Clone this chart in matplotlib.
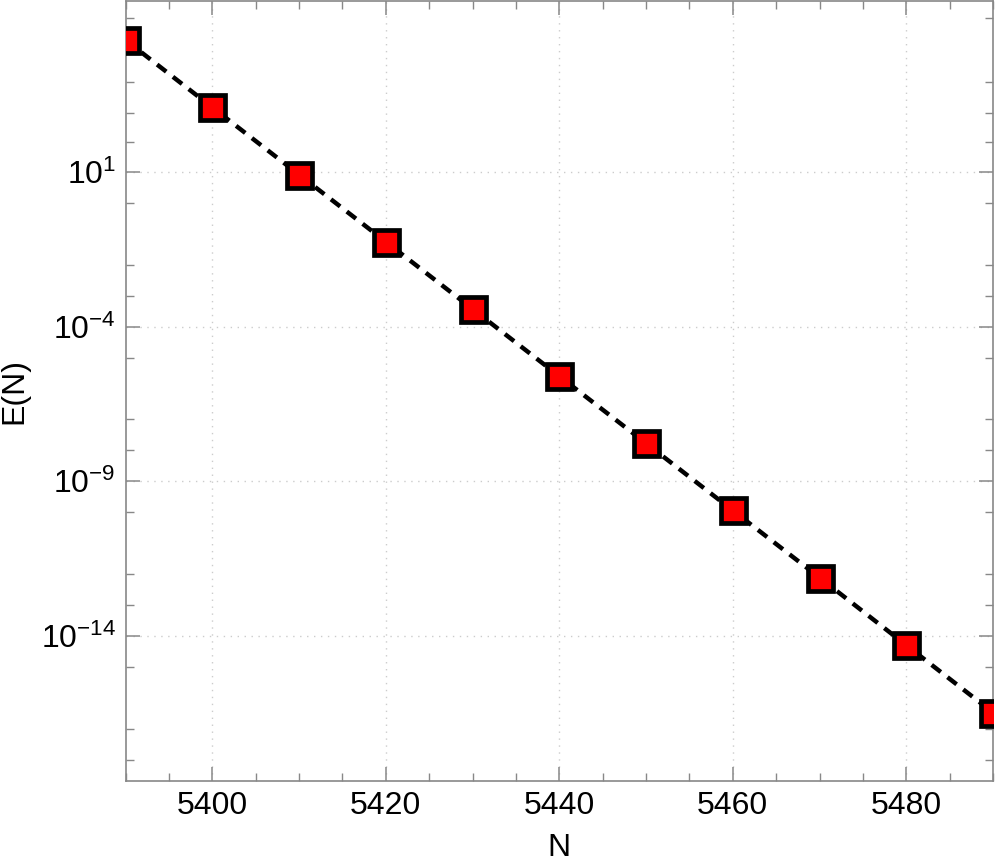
import matplotlib
matplotlib.use('Agg')
import matplotlib.pyplot as plt
from matplotlib.ticker import FixedLocator, NullFormatter
import numpy as np

plt.rcParams['font.family'] = ['Liberation Sans', 'DejaVu Sans']
plt.rcParams['mathtext.fontset'] = 'custom'
plt.rcParams['mathtext.rm'] = 'Liberation Sans'
plt.rcParams['mathtext.default'] = 'regular'

# data
n_vals = [5390, 5400, 5410, 5420, 5430, 5440, 5450, 5460, 5470, 5480, 5490]
err_vals = [1.8e5, 1.2e3, 8.1, 5.5e-2, 3.7e-4, 2.5e-6, 1.7e-8,
            1.15e-10, 7.8e-13, 5.1e-15, 3.4e-17]

x_major = [5400, 5420, 5440, 5460, 5480]
x_minor = list(range(5390, 5491, 5))
y_major_exp = [1, -4, -9, -14]
y_minor_exp = [5.97, 3.9, 2.9, 1.97, 0, -2, -3, -5, -7, -8, -10, -12, -13,
               -15, -17, -18]

fig = plt.figure(figsize=(9.97, 8.68), dpi=100)
ax = fig.add_axes([0.1259, 0.1002, 0.996 - 0.1259, 0.999 - 0.1002])

ax.plot(n_vals, err_vals, color='black', lw=3.2, ls=(0, (2.6, 1.9)),
        marker='s', markersize=18, markerfacecolor='#ff0000',
        markeredgecolor='black', markeredgewidth=3.4, zorder=3)

ax.set_yscale('log')
ax.set_xlim(5390, 5490)
ax.set_ylim(10 ** -18.68, 10 ** 6.52)

ax.xaxis.set_major_locator(FixedLocator(x_major))
ax.xaxis.set_minor_locator(FixedLocator([v for v in x_minor if v not in x_major]))
ax.yaxis.set_major_locator(FixedLocator([10.0 ** e for e in y_major_exp]))
ax.yaxis.set_minor_locator(FixedLocator([10.0 ** e for e in y_minor_exp]))
ax.set_yticklabels([r'$10^{%d}$' % e for e in y_major_exp])
ax.yaxis.set_minor_formatter(NullFormatter())

ax.grid(True, which='major', color='#cccccc', ls=(0, (1, 4)), lw=1)

for s in ax.spines.values():
    s.set_color('#888888')
    s.set_linewidth(1.2)

ax.tick_params(which='both', direction='in', top=True, right=True,
               color='#888888', labelsize=23, labelcolor='black')
ax.tick_params(which='major', length=10, width=1.1)
ax.tick_params(axis='x', which='major', pad=7)
ax.tick_params(axis='y', which='major', pad=7)
ax.tick_params(which='minor', length=6, width=1.0)

ax.set_xlabel('N', fontsize=23, labelpad=9)
ax.set_ylabel('E(N)', fontsize=23, labelpad=8)

fig.savefig('out.png', dpi=100)
